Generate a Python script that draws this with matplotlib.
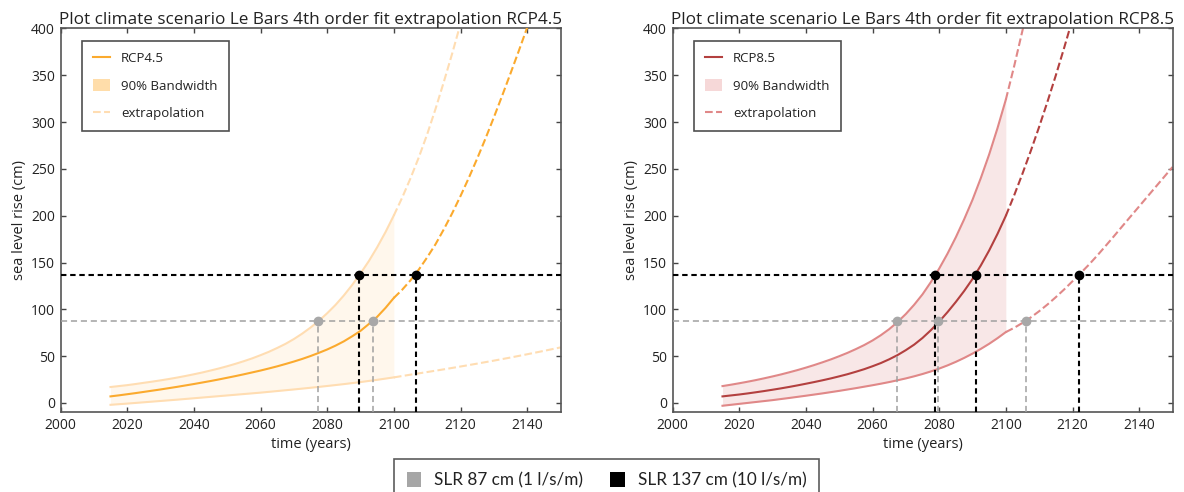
import matplotlib
matplotlib.use('Agg')
import matplotlib.pyplot as plt
from matplotlib.lines import Line2D
from matplotlib.patches import Patch

# time axes (years)
yrs_fit = [2015, 2017.5, 2020, 2022.5, 2025, 2027.5, 2030, 2032.5, 2035, 2037.5,
           2040, 2042.5, 2045, 2047.5, 2050, 2052.5, 2055, 2057.5, 2060, 2062.5,
           2065, 2067.5, 2070, 2072.5, 2075, 2077.5, 2080, 2082.5, 2085, 2087.5,
           2090, 2092.5, 2095, 2097.5, 2100]
yrs_ext = [2100, 2102.5, 2105, 2107.5, 2110, 2112.5, 2115, 2117.5, 2120, 2122.5,
           2125, 2127.5, 2130, 2132.5, 2135, 2137.5, 2140, 2142.5, 2145, 2147.5, 2150]

# RCP4.5 (cm)
rcp45_mid = [7, 8.1, 9.3, 10.5, 11.8, 13.1, 14.4, 15.8, 17.2, 18.7,
             20.2, 21.8, 23.4, 25.1, 26.9, 28.7, 30.6, 32.6, 34.6, 36.8,
             39.1, 41.6, 44.2, 47.0, 50.1, 53.5, 57.1, 61.2, 65.8, 71.2,
             77, 84.3, 92, 101.5, 112.2]
rcp45_hi = [17, 18.0, 19, 20.2, 21.5, 22.75, 24.1, 25.55, 27.1, 28.8,
            30.6, 32.5, 34.6, 36.8, 39.2, 41.8, 44.6, 47.6, 51, 54.6,
            58.7, 63.1, 68.2, 74.0, 80.5, 87.7, 95.8, 104.7, 114.8, 126.0,
            138.3, 151.5, 166.3, 182.5, 200.3]
rcp45_lo = [-2, -1.35, -0.7, 0, 0.7, 1.4, 2.1, 2.8, 3.5, 4.25,
            5, 5.75, 6.5, 7.25, 8, 8.75, 9.5, 10.25, 11, 11.85,
            12.7, 13.55, 14.4, 15.3, 16.2, 17.15, 18.1, 19.1, 20.1, 21.2,
            22.3, 23.5, 24.7, 26, 27.3]
rcp45_mid_ext = [112.2, 120.9, 131, 142.5, 155.5, 169.5, 185.5, 202.6, 221, 240.5,
                 261, 282.5, 305, 328.2, 352, 376.2, 401, 426.2]
rcp45_hi_ext = [200.3, 219.3, 240, 262.4, 287, 314, 343, 373.2, 405, 437]
rcp45_lo_ext = [27.3, 28.75, 30.2, 31.6, 33, 34.45, 35.9, 37.4, 38.9, 40.45,
                42, 43.6, 45.2, 46.85, 48.5, 50.25, 52, 53.8, 55.6, 57.45, 59.3]

# RCP8.5 (cm)
rcp85_mid = [7, 8.0, 9, 10.15, 11.4, 12.7, 14.1, 15.55, 17.1, 18.75,
             20.5, 22.3, 24.2, 26.2, 28.4, 30.7, 33.3, 36.05, 39.2, 42.6,
             46.6, 51.1, 56.4, 62.3, 69.4, 77.65, 86.9, 97.0, 107.9, 119.6,
             132.4, 146.9, 162.9, 180.6, 199.9]
rcp85_hi = [18, 19.45, 21, 22.65, 24.4, 26.3, 28.3, 30.4, 32.7, 35.1,
            37.7, 40.45, 43.4, 46.5, 49.9, 53.5, 57.5, 61.8, 66.7, 72.35,
            78.8, 86.4, 95, 104.9, 116, 129.05, 143.5, 159.45, 177, 196.2,
            217, 240.25, 265.5, 293.55, 324]
rcp85_lo = [-3, -2, -1, 0, 1, 2, 3, 4.15, 5.3, 6.5,
            7.7, 8.95, 10.2, 11.55, 12.9, 14.35, 15.8, 17.35, 18.9, 20.55,
            22.3, 24.2, 26.2, 28.45, 30.9, 33.65, 36.7, 40.1, 43.9, 48.1,
            52.7, 57.75, 63.2, 69.2, 75.7]
rcp85_mid_ext = [199.9, 221.8, 245, 269.4, 295, 321.9, 350, 379.4, 410, 441.9]
rcp85_hi_ext = [324, 359.8, 398, 437.8]
rcp85_lo_ext = [75.7, 80.25, 85.5, 91.4, 98, 105.2, 113, 121.25, 130, 138.9,
                148, 157.75, 168, 178.4, 189, 199.5, 210, 220.5, 231, 241.5, 252]

# sea level rise thresholds and the years they are reached
slr_low = 88
slr_high = 137
rcp45_yr_low = [2077.2, 2093.7]
rcp45_yr_high = [2089.6, 2106.5]
rcp85_yr_low = [2067.4, 2079.7, 2106.0]
rcp85_yr_high = [2078.7, 2090.9, 2122.0]

plt.rcParams['font.family'] = ['Open Sans', 'DejaVu Sans']
plt.rcParams['text.color'] = '#222222'
plt.rcParams['axes.labelcolor'] = '#222222'
plt.rcParams['xtick.color'] = '#444444'
plt.rcParams['ytick.color'] = '#444444'
plt.rcParams['xtick.labelcolor'] = '#222222'
plt.rcParams['ytick.labelcolor'] = '#222222'


def panel(ax, name, mid, hi, lo, mid_ext, hi_ext, lo_ext, yr_low, yr_high,
          c_main, c_band, c_fill, c_patch):
    ax.fill_between(yrs_fit, lo, hi, color=c_fill, lw=0, zorder=1)
    ax.plot(yrs_fit, hi, color=c_band, lw=1.5, zorder=2)
    ax.plot(yrs_fit, lo, color=c_band, lw=1.5, zorder=2)
    ax.plot(yrs_fit, mid, color=c_main, lw=1.5, zorder=3)
    ax.plot(yrs_ext[:len(hi_ext)], hi_ext, color=c_band, lw=1.5, ls='--', zorder=2)
    ax.plot(yrs_ext[:len(lo_ext)], lo_ext, color=c_band, lw=1.5, ls='--', zorder=2)
    ax.plot(yrs_ext[:len(mid_ext)], mid_ext, color=c_main, lw=1.5, ls='--', zorder=3)

    ax.axhline(slr_low, color='#a0a0a0', lw=1.1, dashes=(4, 2.5), zorder=4)
    ax.axhline(slr_high, color='black', lw=1.5, dashes=(2.6, 1.8), zorder=5)
    for x in yr_low:
        ax.plot([x, x], [-10, slr_low], color='#a0a0a0', lw=1.1, dashes=(4, 2.5), zorder=4)
        ax.plot(x, slr_low, 'o', color='#a8a8a8', mec='#a8a8a8', ms=6, zorder=6)
    for x in yr_high:
        ax.plot([x, x], [-10, slr_high], color='black', lw=1.5, dashes=(2.6, 1.8), zorder=5)
        ax.plot(x, slr_high, 'o', color='black', ms=6, zorder=7)

    ax.set_xlim(2000, 2150)
    ax.set_ylim(-10, 400)
    ax.set_xticks(range(2000, 2141, 20))
    ax.set_yticks(range(0, 401, 50))
    ax.tick_params(direction='in', top=True, right=True, length=3.5, width=1,
                   labelsize=10, pad=4)
    for s in ax.spines.values():
        s.set_color('#555555')
        s.set_linewidth(1.2)
    ax.set_title('Plot climate scenario Le Bars 4th order fit extrapolation ' + name,
                 fontsize=12.3, pad=3)
    ax.set_xlabel('time (years)', fontsize=10.5, labelpad=3)
    ax.set_ylabel('sea level rise (cm)', fontsize=10.5, labelpad=3)

    handles = [Line2D([], [], color=c_main, lw=1.5),
               Patch(facecolor=c_patch, edgecolor='none'),
               Line2D([], [], color=c_band, lw=1.5, ls='--')]
    leg = ax.legend(handles, [name, '90% Bandwidth', 'extrapolation'],
                    loc='upper left', bbox_to_anchor=(0.043, 0.968),
                    borderaxespad=0, fontsize=9.5, frameon=True, fancybox=False,
                    labelspacing=1.05, handlelength=1.3, handleheight=1.0,
                    handletextpad=0.8, borderpad=0.85)
    leg.get_frame().set_edgecolor('#222222')
    leg.get_frame().set_linewidth(1.2)


fig = plt.figure(figsize=(11.84, 4.92), dpi=100)
ax1 = fig.add_axes([60.5 / 1184, 1 - 412.3 / 492, 500 / 1184, 383.8 / 492])
ax2 = fig.add_axes([672.5 / 1184, 1 - 412.3 / 492, 500 / 1184, 383.8 / 492])

panel(ax1, 'RCP4.5', rcp45_mid, rcp45_hi, rcp45_lo, rcp45_mid_ext, rcp45_hi_ext,
      rcp45_lo_ext, rcp45_yr_low, rcp45_yr_high,
      '#FBAA2E', '#FFDDB2', '#FFF7EC', '#FFDDAA')
panel(ax2, 'RCP8.5', rcp85_mid, rcp85_hi, rcp85_lo, rcp85_mid_ext, rcp85_hi_ext,
      rcp85_lo_ext, rcp85_yr_low, rcp85_yr_high,
      '#B3403F', '#E08888', '#F8E7E7', '#F6D8D8')

slr_handles = [Patch(facecolor='#a6a6a6', edgecolor='none'),
               Patch(facecolor='black', edgecolor='none')]
bleg = fig.legend(slr_handles, ['SLR 87 cm (1 l/s/m)', 'SLR 137 cm (10 l/s/m)'],
                  loc='upper center', bbox_to_anchor=(0.5124, 1 - 459 / 492),
                  borderaxespad=0, ncol=2, fancybox=False,
                  prop={'family': ['Lato', 'DejaVu Sans'], 'size': 12.3},
                  handlelength=0.85, handleheight=1.0, handletextpad=0.75,
                  columnspacing=1.6, borderpad=0.75)
bleg.get_frame().set_edgecolor('#333333')
bleg.get_frame().set_linewidth(1.2)

fig.savefig('out.png', dpi=100)
